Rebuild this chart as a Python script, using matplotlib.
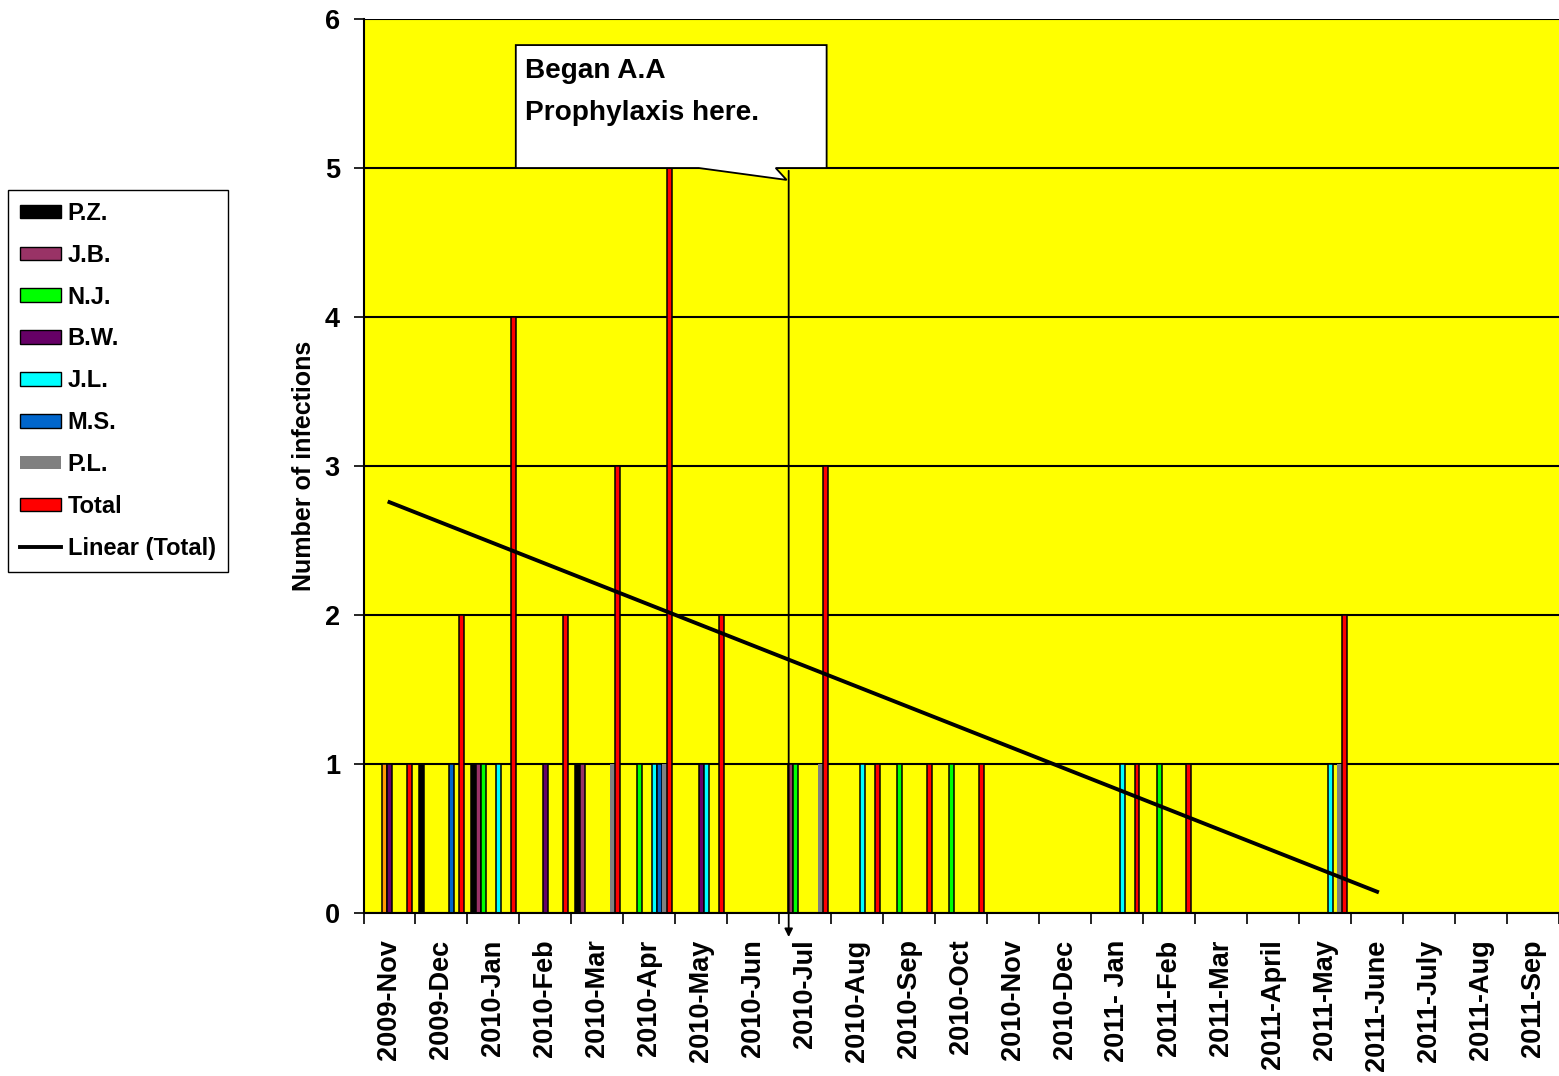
import numpy as np
import matplotlib.pyplot as plt
from matplotlib.patches import Patch, Polygon
from matplotlib.lines import Line2D

plt.rcParams['font.family'] = ['Liberation Sans', 'DejaVu Sans']
plt.rcParams['font.weight'] = 'bold'

months = ['2009-Nov', '2009-Dec', '2010-Jan', '2010-Feb', '2010-Mar', '2010-Apr',
          '2010-May', '2010-Jun', '2010-Jul', '2010-Aug', '2010-Sep', '2010-Oct',
          '2010-Nov', '2010-Dec', '2011- Jan', '2011-Feb', '2011-Mar', '2011-April',
          '2011-May', '2011-June', '2011-July', '2011-Aug', '2011-Sep']

# infections per person per month (0 = none)
pz    = [0, 1, 1, 0, 1, 0, 0, 0, 0, 0, 0, 0, 0, 0, 0, 0, 0, 0, 0, 0, 0, 0, 0]
jb    = [0, 0, 1, 0, 1, 0, 0, 0, 1, 0, 0, 0, 0, 0, 0, 0, 0, 0, 0, 0, 0, 0, 0]
nj    = [0, 0, 1, 0, 0, 1, 0, 0, 1, 0, 1, 1, 0, 0, 0, 1, 0, 0, 0, 0, 0, 0, 0]
other = [1, 0, 0, 0, 0, 0, 0, 0, 0, 0, 0, 0, 0, 0, 0, 0, 0, 0, 0, 0, 0, 0, 0]  # not in legend
bw    = [1, 0, 0, 1, 0, 0, 1, 0, 0, 0, 0, 0, 0, 0, 0, 0, 0, 0, 0, 0, 0, 0, 0]
jl    = [0, 0, 1, 0, 0, 1, 1, 0, 0, 1, 0, 0, 0, 0, 1, 0, 0, 0, 1, 0, 0, 0, 0]
ms    = [0, 1, 0, 0, 0, 1, 0, 0, 0, 0, 0, 0, 0, 0, 0, 0, 0, 0, 0, 0, 0, 0, 0]
pl    = [0, 0, 0, 0, 1, 1, 0, 0, 1, 0, 0, 0, 0, 0, 0, 0, 0, 0, 1, 0, 0, 0, 0]
# total has entries up to 2011-June
total = [1, 2, 4, 2, 3, 5, 2, 0, 3, 1, 1, 1, 0, 0, 1, 1, 0, 0, 2, 0]

series = [
    ('P.Z.', pz, '#000000'),
    ('J.B.', jb, '#993366'),
    ('N.J.', nj, '#00FF00'),
    ('_other', other, '#FF9900'),
    ('B.W.', bw, '#660066'),
    ('J.L.', jl, '#00FFFF'),
    ('M.S.', ms, '#0066CC'),
    ('P.L.', pl, '#808080'),
    ('Total', total, '#FF0000'),
]

fig = plt.figure(figsize=(15.59, 10.76), dpi=100)
ax = fig.add_axes([363.5 / 1559, 1 - 913 / 1076, (1559 - 363.5) / 1559, (913 - 19) / 1076])
ax.set_facecolor('#FFFF00')

w = 1 / 10.5
xc = np.arange(len(months))
for k, (name, vals, color) in enumerate(series):
    vals = np.array(vals, dtype=float)
    x = xc[:len(vals)] + (k - 4) * w
    m = vals > 0
    edge = 'none' if name == 'P.L.' else 'black'
    ax.bar(x[m], vals[m], w, color=color, edgecolor=edge, linewidth=1.1, zorder=2)

# linear trendline of the total
xt = np.arange(len(total))
coef = np.polyfit(xt, total, 1)
ax.plot(xt, np.polyval(coef, xt), color='black', lw=2.8, zorder=3)

ax.set_xlim(-0.5, len(months) - 0.5)
ax.set_ylim(0, 6)
ax.set_yticks(range(7))
ax.set_xticks(xc)
ax.set_xticklabels(months, rotation=90, fontsize=19.5, fontweight='bold')
ax.set_xticks(np.arange(len(months) + 1) - 0.5, minor=True)
ax.tick_params(axis='x', which='major', length=0, pad=19)
ax.tick_params(axis='x', which='minor', length=8, width=1.2)
ax.tick_params(axis='y', length=7, width=1.2, pad=10, labelsize=19.5)
for lab in ax.get_yticklabels():
    lab.set_fontweight('bold')
ax.grid(axis='y', color='black', lw=1.5)
ax.set_axisbelow(True)
for s in ['top', 'right']:
    ax.spines[s].set_visible(False)
for s in ['left', 'bottom']:
    ax.spines[s].set_linewidth(1.5)
ax.set_ylabel('Number of infections', fontsize=18, fontweight='bold', labelpad=6)

# callout box
call = Polygon([(2.43, 5.825), (8.41, 5.825), (8.41, 5.0), (7.43, 5.0), (7.64, 4.92),
                (5.95, 5.0), (2.43, 5.0)], closed=True, facecolor='white',
               edgecolor='black', lw=1.3, zorder=5)
ax.add_patch(call)
ax.text(2.6, 5.74, 'Began A.A\nProphylaxis here.', fontsize=20.2, fontweight='bold',
        va='top', ha='left', linespacing=1.8, zorder=6)
ax.annotate('', xy=(7.68, -0.18), xytext=(7.68, 5.0),
            arrowprops=dict(arrowstyle='-|>', color='black', lw=1.3, mutation_scale=12),
            annotation_clip=False, zorder=6)

handles = [Patch(facecolor=c, edgecolor='none' if n == 'P.L.' else 'black', lw=1, label=n)
           for n, v, c in series if not n.startswith('_')]
handles.append(Line2D([], [], color='black', lw=2.8, label='Linear (Total)'))
fig.legend(handles=handles, loc='upper left', bbox_to_anchor=(8 / 1559, 1 - 190 / 1076),
           borderaxespad=0, prop={'weight': 'bold', 'size': 17},
           frameon=True, fancybox=False, edgecolor='black', framealpha=1,
           handlelength=1.75, handleheight=0.5, handletextpad=0.28, labelspacing=0.8,
           borderpad=0.5)

fig.savefig('out.png', dpi=100)
